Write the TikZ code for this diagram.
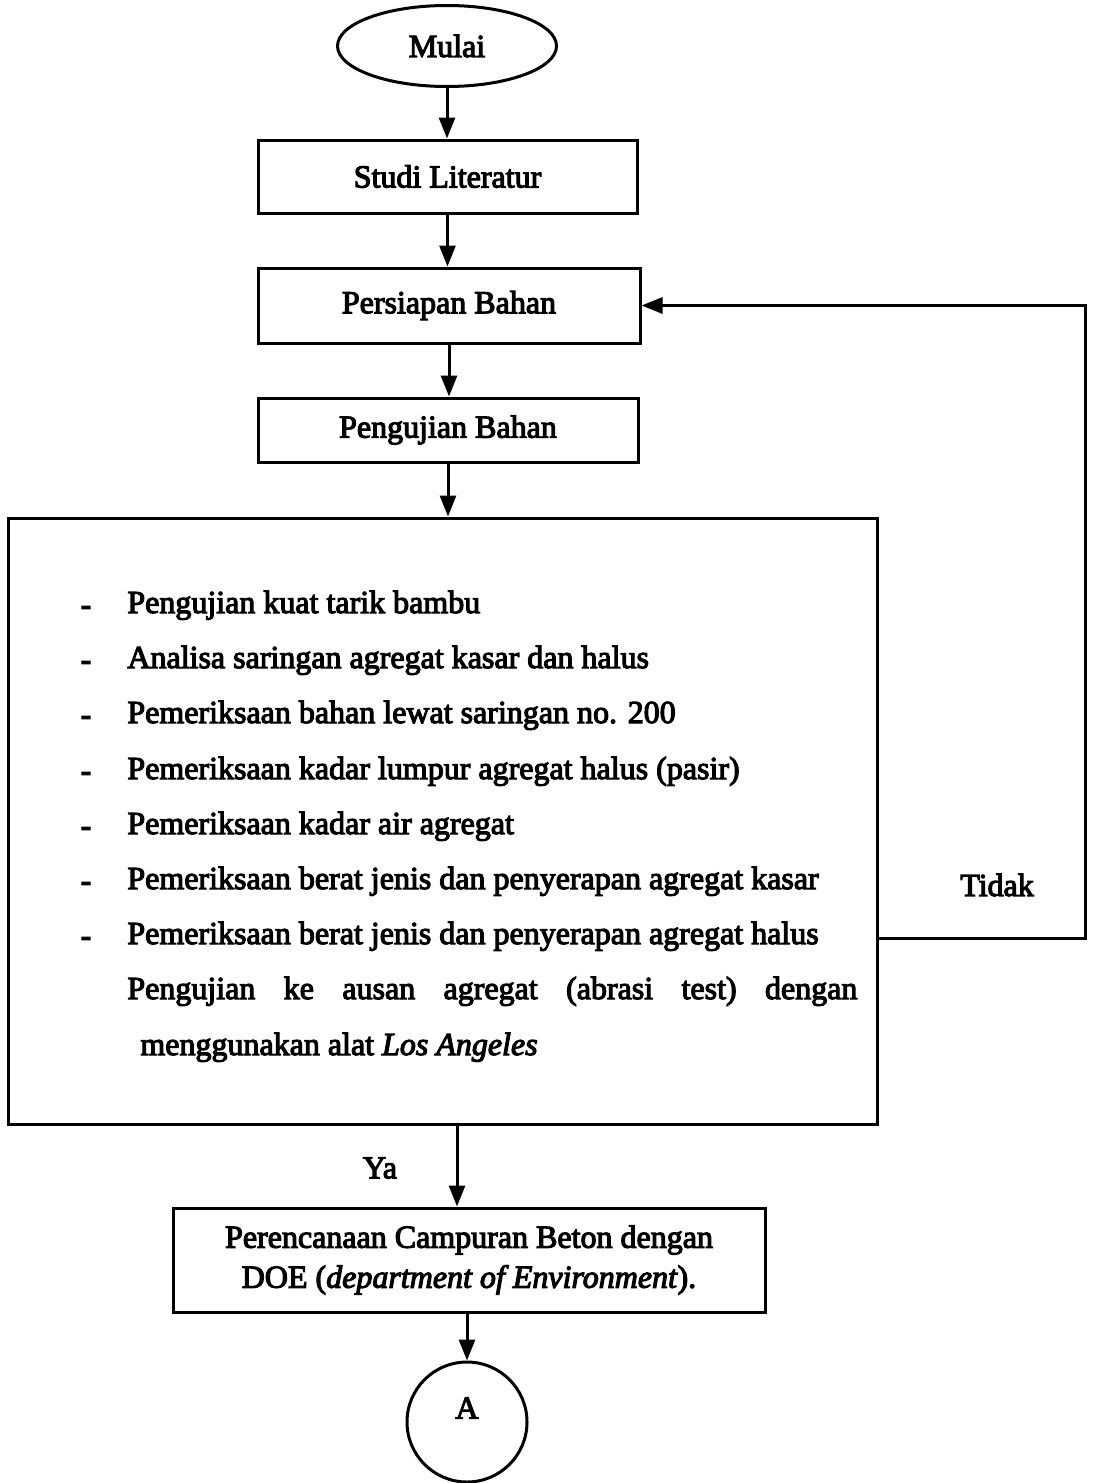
\documentclass[tikz,border=0pt]{standalone}
\usepackage{fontspec}
\setmainfont{Liberation Serif}[FakeBold=3.5]
\usetikzlibrary{shapes.geometric,arrows.meta}
\newcommand\fsz{\fontsize{16}{20}\selectfont}
\begin{document}
\begin{tikzpicture}[x=0.5pt,y=-0.5pt,
  box/.style={draw, line width=1.5pt, inner sep=0pt, align=center, font=\fsz},
  flow/.style={line width=1.5pt, -{Triangle[length=10.5pt,width=8pt]}},
  item/.style={anchor=base west, inner sep=0pt, font=\fsz},
  dashmark/.style={anchor=base, inner sep=0pt, font=\fsz\bfseries},
  lbl/.style={inner sep=0pt, font=\fsz}]
\useasboundingbox (0,0) rectangle (1094,1483);

\node[ellipse, draw, line width=1.5pt, minimum width=109.5pt, minimum height=40.5pt, inner sep=0pt, font=\fsz] (mulai) at (447,46) {Mulai};
\node[box, minimum width=189.5pt, minimum height=36.5pt] (studi) at (447.5,176.5) {Studi Literatur};
\node[box, minimum width=191pt, minimum height=37.5pt] (persiapan) at (449,305.5) {Persiapan Bahan};
\node[box, minimum width=190pt, minimum height=32pt] (pengujian) at (448,430) {Pengujian Bahan};
\node[box, minimum width=434.5pt, minimum height=303pt] (uji) at (442.5,821) {};
\node[box, minimum width=296pt, minimum height=52pt] (doe) at (469,1260) {Perencanaan Campuran Beton dengan\\DOE (\textit{department of Environment}).};
\node[circle, draw, line width=1.5pt, minimum size=60pt, inner sep=0pt] (a) at (467,1422) {};
\node[lbl] (alabel) at (467,1408) {A};

% list inside the test box
\node[dashmark] (d1) at (86,615) {-};
\node[dashmark] (d2) at (86,670) {-};
\node[dashmark] (d3) at (86,725) {-};
\node[dashmark] (d4) at (86,781) {-};
\node[dashmark] (d5) at (86,836) {-};
\node[dashmark] (d6) at (86,891) {-};
\node[dashmark] (d7) at (86,946) {-};
\node[item] (i1) at (127,613) {Pengujian kuat tarik bambu};
\node[item] (i2) at (127,668) {Analisa saringan agregat kasar dan halus};
\node[item] (i3) at (127,723) {Pemeriksaan bahan lewat saringan no. 200};
\node[item] (i4) at (127,779) {Pemeriksaan kadar lumpur agregat halus (pasir)};
\node[item] (i5) at (127,834) {Pemeriksaan kadar air agregat};
\node[item] (i6) at (127,889) {Pemeriksaan berat jenis dan penyerapan agregat kasar};
\node[item] (i7) at (127,944) {Pemeriksaan berat jenis dan penyerapan agregat halus};
\node[item] (i8) at (127,999) {\makebox[365pt][s]{Pengujian ke ausan agregat (abrasi test) dengan}};
\node[item] (i9) at (140,1055) {menggunakan alat \textit{Los Angeles}};

% labels
\node[lbl] (ya) at (380,1168) {Ya};
\node[lbl] (tidak) at (997,885) {Tidak};

% connectors
\draw[flow] (mulai.south) -- (mulai.south |- studi.north);
\draw[flow] (studi.south) -- (studi.south |- persiapan.north);
\draw[flow] (persiapan.south) -- (persiapan.south |- pengujian.north);
\draw[flow] (pengujian.south) -- (pengujian.south |- uji.north);
\coordinate (yx) at (457,1200);
\draw[flow] (uji.south -| yx) -- (doe.north -| yx);
\draw[flow] (doe.south -| a.north) -- (a.north);
\coordinate (fb) at (1085,938);
\draw[flow] (uji.east |- fb) -- (fb) |- (persiapan.east);
\end{tikzpicture}
\end{document}
